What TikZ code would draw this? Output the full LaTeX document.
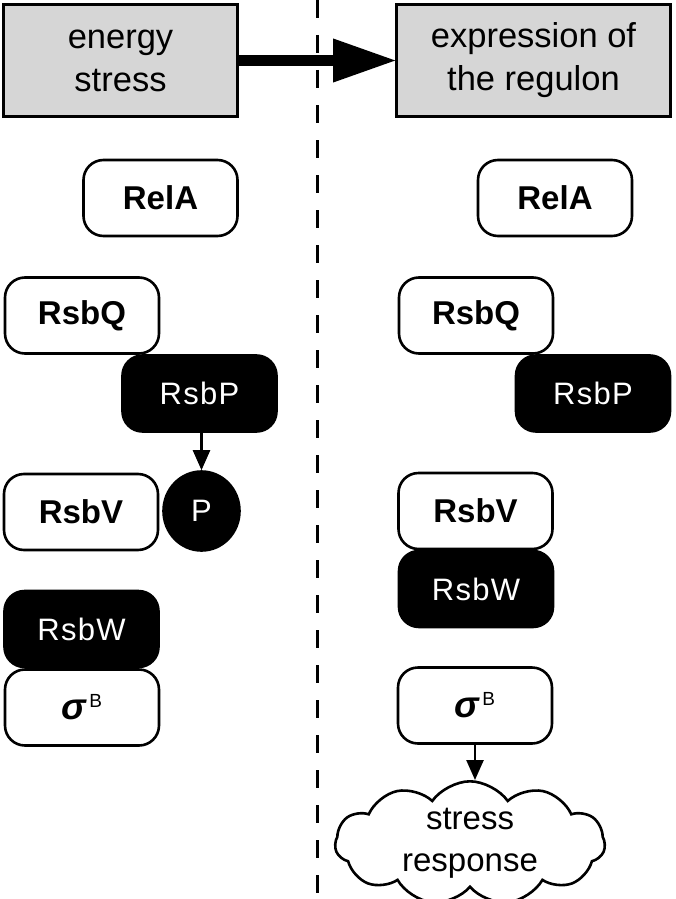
\documentclass[tikz,border=0pt]{standalone}
\usepackage{fontspec}
\setmainfont{Liberation Sans}
\newfontfamily\wfont[LetterSpace=4]{Liberation Sans}
\usetikzlibrary{arrows.meta,shapes.symbols,shapes.geometric}
\definecolor{boxgray}{RGB}{214,214,214}
\tikzset{
 basebox/.style={draw=black, line width=2.6pt, rounded corners=20pt, minimum width=154pt, minimum height=76pt, inner sep=0pt},
 wbox/.style={basebox, fill=white, font=\fontsize{33}{36}\selectfont\bfseries},
 bbox/.style={basebox, fill=black, text=white, font=\wfont\fontsize{31}{36}\selectfont},
 gbox/.style={draw=black, line width=2.6pt, fill=boxgray, inner sep=0pt, align=center, font=\fontsize{34.5}{43}\selectfont},
 conn/.style={line width=2.5pt, -{Triangle[length=20pt,width=17pt]}},
}
\newcommand{\sigB}{{\fontsize{37}{37}\selectfont\bfseries\itshape σ}\hspace{3pt}\raisebox{12pt}{\fontsize{19}{19}\selectfont\mdseries B}}
\begin{document}
\begin{tikzpicture}[x=1pt,y=-1pt]
\useasboundingbox (0,0) rectangle (675,899);
\coordinate (dtop) at (317,0);
\coordinate (dbot) at (317,899);
\draw[line width=3pt, dash pattern=on 18pt off 17pt] (dtop) -- (dbot);
% title boxes
\node[gbox, minimum width=234pt, minimum height=112pt] (es) at (120.5,60.5) {energy\\stress};
\node[gbox, minimum width=274pt, minimum height=112pt] (er) at (533.5,60.5) {expression of\\the regulon};
\draw[line width=11pt, -{Triangle[length=62pt,width=44pt,line width=0pt]}] (es.east) -- (er.west);
% left column
\node[wbox] (relL) at (160.5,198) {RelA};
\node[wbox] (rqL) at (82,315.5) {RsbQ};
\node[bbox] (rpL) at (199.5,393.5) {RsbP};
\node[wbox] (rvL) at (81,512) {RsbV};
\node[ellipse, draw=black, line width=2.6pt, fill=black, text=white, minimum width=76pt, minimum height=79pt, inner sep=0pt, font=\wfont\fontsize{31}{36}\selectfont] (P) at (201.5,511) {P};
\draw[conn] (P.north |- rpL.south) -- (P.north);
\node[bbox] (rwL) at (81.5,629) {RsbW};
\node[wbox] (sgL) at (82,707.5) {\sigB};
% right column
\node[wbox] (relR) at (555,198) {RelA};
\node[wbox] (rqR) at (476,315.5) {RsbQ};
\node[bbox] (rpR) at (593,393.5) {RsbP};
\node[bbox] (rwR) at (476,589) {RsbW};
\node[wbox] (rvR) at (475.5,511) {RsbV};
\node[wbox] (sgR) at (475,705.5) {\sigB};
\node[cloud, draw=black, line width=2.6pt, fill=white, cloud puffs=11, cloud puff arc=110, cloud ignores aspect, minimum width=270pt, minimum height=104pt, inner sep=0pt, align=center, font=\fontsize{33}{42}\selectfont] (sr) at (470,843) {stress\\response};
\draw[conn] (sgR.south) -- (sgR.south |- sr.north);
\end{tikzpicture}
\end{document}
